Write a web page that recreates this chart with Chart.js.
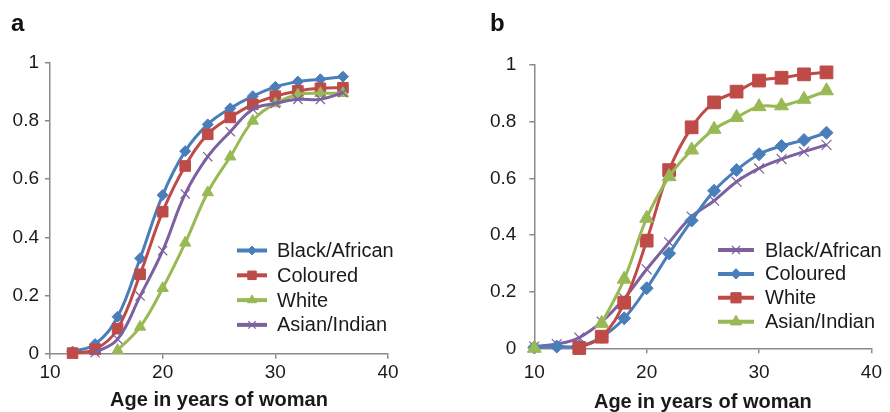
<!DOCTYPE html>
<html>
<head>
<meta charset="utf-8">
<script src="https://cdn.jsdelivr.net/npm/chart.js"></script>
<style>
  body { margin: 0; background: #fff; }
  .panel { position: absolute; top: 0; width: 445px; height: 412px; }
  .tag { position: absolute; top: 11px; font: bold 24px "Liberation Sans", Arial, sans-serif; line-height: 24px; color: #111; }
</style>
</head>
<body>
<div class="panel" style="left:0"><canvas id="chartA" width="445" height="412"></canvas></div>
<div class="panel" style="left:445px"><canvas id="chartB" width="445" height="412"></canvas></div>
<div class="tag" style="left:11px">a</div>
<div class="tag" style="left:490px">b</div>
<script>
// panel a: ages 12-36
const agesA = [12, 14, 16, 18, 20, 22, 24, 26, 28, 30, 32, 34, 36];
const blackA = [0.007, 0.033, 0.127, 0.328, 0.545, 0.696, 0.788, 0.843, 0.885, 0.917, 0.935, 0.943, 0.952];
const colouredA = [0.002, 0.015, 0.086, 0.273, 0.488, 0.645, 0.754, 0.812, 0.857, 0.885, 0.903, 0.912, 0.914];
const whiteA = [null, null, 0.012, 0.092, 0.225, 0.381, 0.554, 0.677, 0.800, 0.860, 0.890, 0.895, 0.895];
const asianA = [null, 0.003, 0.050, 0.198, 0.354, 0.549, 0.677, 0.763, 0.840, 0.860, 0.874, 0.874, 0.897];

// panel b: ages 10-36
const agesB = [10, 12, 14, 16, 18, 20, 22, 24, 26, 28, 30, 32, 34, 36];
const blackB = [0.006, 0.015, 0.038, 0.094, 0.176, 0.279, 0.374, 0.465, 0.521, 0.588, 0.635, 0.668, 0.694, 0.718];
const colouredB = [0.003, 0.006, 0.008, 0.040, 0.106, 0.212, 0.335, 0.451, 0.556, 0.629, 0.685, 0.714, 0.735, 0.761];
const whiteB = [null, null, 0.001, 0.041, 0.161, 0.380, 0.629, 0.780, 0.868, 0.906, 0.945, 0.955, 0.967, 0.974];
const asianB = [0.0, null, null, 0.088, 0.244, 0.459, 0.606, 0.700, 0.773, 0.815, 0.853, 0.856, 0.879, 0.909];

const xTicks = [10, 20, 30, 40];
const yTicks = [0, 0.2, 0.4, 0.6, 0.8, 1];

const BLUE = '#4a7ebb', RED = '#be4b48', GREEN = '#98b954', PURPLE = '#7d60a0';
const AXIS = '#8a8a8a';
const FONT = '"Liberation Sans", Arial, sans-serif';

const pts = (ages, vals) => ages.map((a, i) => ({ x: a, y: vals[i] }));

const series = (label, ages, vals, color, style, radius, order) => ({
  label,
  data: pts(ages, vals),
  borderColor: color,
  backgroundColor: color,
  borderWidth: 3,
  tension: 0.4,
  pointStyle: style,
  pointRadius: radius,
  pointBorderWidth: style === 'crossRot' ? 1.2 : 1,
  pointBackgroundColor: color,
  pointBorderColor: color,
  spanGaps: false,
  clip: false,
  order
});

// legend drawn inside the plot area: short line with the marker, then the name
const inlineLegend = {
  id: 'inlineLegend',
  afterDraw(chart, args, opts) {
    const ctx = chart.ctx;
    ctx.save();
    chart.data.datasets.forEach((ds, i) => {
      const y = opts.y + i * opts.rowGap;
      ctx.strokeStyle = ds.borderColor;
      ctx.fillStyle = ds.backgroundColor;
      ctx.lineWidth = 4;
      ctx.beginPath();
      ctx.moveTo(opts.x, y);
      ctx.lineTo(opts.x + opts.lineLen, y);
      ctx.stroke();
      ctx.lineWidth = ds.pointBorderWidth;
      Chart.helpers.drawPoint(ctx, {
        pointStyle: ds.pointStyle,
        radius: ds.pointRadius * 0.8,
        borderWidth: ds.pointBorderWidth,
        rotation: 0
      }, opts.x + opts.lineLen / 2, y);
      ctx.fillStyle = '#1a1a1a';
      ctx.font = '20px ' + FONT;
      ctx.textBaseline = 'middle';
      ctx.textAlign = 'left';
      ctx.fillText(ds.label, opts.textX, y + 1);
    });
    ctx.restore();
  }
};

function makeChart(id, datasets, cfg) {
  return new Chart(document.getElementById(id), {
    type: 'line',
    data: { datasets },
    plugins: [inlineLegend],
    options: {
      responsive: false,
      animation: false,
      events: [],
      layout: { padding: cfg.padding },
      plugins: {
        legend: { display: false },
        tooltip: { enabled: false },
        inlineLegend: cfg.legend
      },
      scales: {
        x: {
          type: 'linear',
          min: 10,
          max: 40,
          afterBuildTicks: s => { s.ticks = xTicks.map(v => ({ value: v })); },
          afterFit: s => { s.height = cfg.xHeight; },
          grid: { drawOnChartArea: false, drawTicks: true, tickLength: 5, color: AXIS, lineWidth: 1.5 },
          border: { color: AXIS, width: 1.5 },
          ticks: { color: '#1a1a1a', padding: cfg.xPad, font: { family: FONT, size: 19 }, callback: v => String(v) },
          title: {
            display: true,
            text: 'Age in years of woman',
            color: '#1a1a1a',
            padding: { top: 0, bottom: 0 },
            font: { family: FONT, size: 20, weight: 'bold', lineHeight: cfg.titleLH }
          }
        },
        y: {
          min: 0,
          max: 1,
          afterBuildTicks: s => { s.ticks = yTicks.map(v => ({ value: v })); },
          afterFit: s => { s.width = cfg.yWidth; },
          grid: { drawOnChartArea: false, drawTicks: true, tickLength: 5, color: AXIS, lineWidth: 1.5 },
          border: { color: AXIS, width: 1.5 },
          ticks: { color: '#1a1a1a', padding: cfg.yPad, font: { family: FONT, size: 19 }, callback: v => String(v) }
        }
      }
    }
  });
}

makeChart('chartA', [
  series('Black/African', agesA, blackA, BLUE, 'rectRot', 5.5, 3),
  series('Coloured', agesA, colouredA, RED, 'rect', 7.5, 2),
  series('White', agesA, whiteA, GREEN, 'triangle', 6.5, 1),
  series('Asian/Indian', agesA, asianA, PURPLE, 'crossRot', 6.5, 0)
], {
  padding: { left: 0, top: 62.7, right: 57, bottom: 0 },
  yWidth: 50, xHeight: 58.3, xPad: 3, yPad: 6, titleLH: 1.2,
  legend: { x: 237, y: 250.5, rowGap: 24.8, lineLen: 30, textX: 277 }
});

makeChart('chartB', [
  series('Black/African', agesB, blackB, PURPLE, 'crossRot', 7, 3),
  series('Coloured', agesB, colouredB, BLUE, 'rectRot', 6.5, 2),
  series('White', agesB, whiteB, RED, 'rect', 9, 1),
  series('Asian/Indian', agesB, asianB, GREEN, 'triangle', 8, 0)
], {
  padding: { left: 0, top: 65, right: 13.3, bottom: 0 },
  yWidth: 89.3, xHeight: 63.7, xPad: 8, yPad: 13, titleLH: 1.0,
  legend: { x: 273, y: 250, rowGap: 23.9, lineLen: 36, textX: 320 }
});
</script>
</body>
</html>
